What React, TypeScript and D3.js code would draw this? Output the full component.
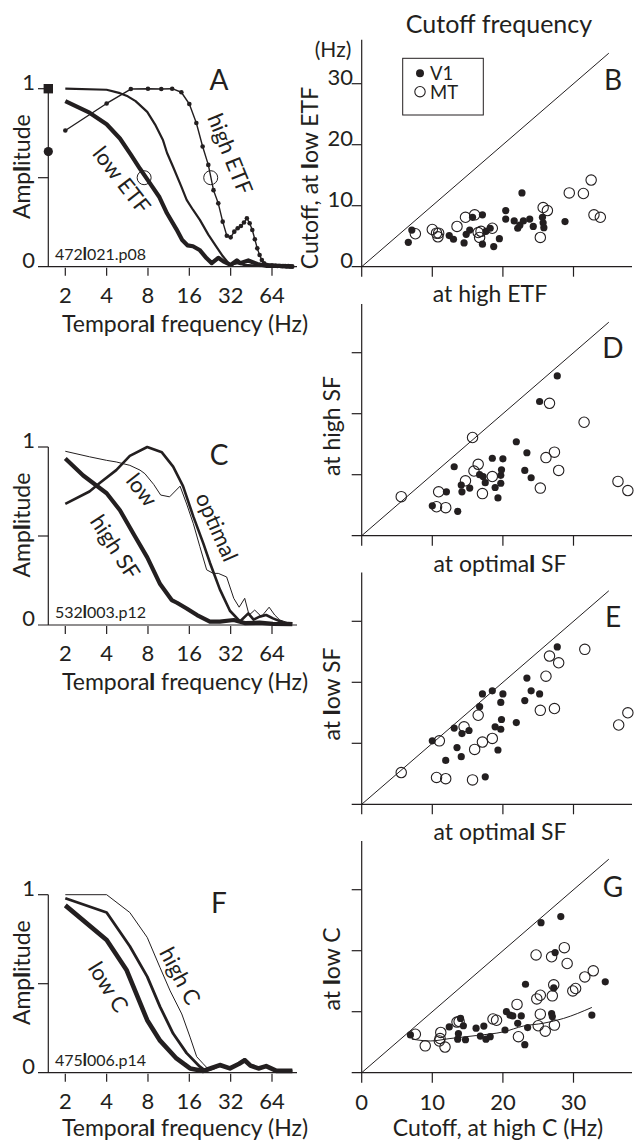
import React from 'react';
import * as d3 from 'd3';

const INK = '#231f20';
const FONT = 'Lato, "Noto Sans", sans-serif';

// tick values
const tfTicks = [2, 4, 8, 16, 32, 64];
const ampTicks = [0.5, 1];
const cutoffTicks = [0, 10, 20, 30];

// A: one V1 cell at three effective temporal frequencies  [Hz, amplitude]
const aLowEtf = [
  [2, 0.93], [3, 0.865], [4, 0.8], [5, 0.72], [6, 0.63], [7, 0.55], [8, 0.485], [9.7, 0.39],
  [11, 0.3], [12.9, 0.21], [14.2, 0.15], [15.5, 0.12], [17, 0.115], [19, 0.094], [21.4, 0.047],
  [23.3, 0.02], [26, 0.05], [28.3, 0.03], [32, 0.01], [35.5, 0.035], [37.5, 0.02], [43, 0.035],
  [50, 0.015], [58, 0.005], [73, 0.004], [92, 0],
];
const aMidEtf = [
  [2, 1.0], [4, 0.994], [5, 0.975], [5.7, 0.957], [6.5, 0.93], [7.9, 0.87], [9, 0.8], [10.3, 0.71],
  [11, 0.64], [12.2, 0.56], [14, 0.45], [15.3, 0.375], [17, 0.32], [19.1, 0.263], [22, 0.18],
  [25.3, 0.11], [28, 0.06], [31.6, 0.01], [36, 0.02], [40, 0.01], [50, 0.005], [64, 0.003], [90, 0],
];
const aHighEtf = [
  [2, 0.765], [4, 0.917], [6, 0.998], [8, 1.0], [10, 0.998], [12, 1.0], [14, 0.98], [16, 0.914],
  [18, 0.807], [20, 0.675], [22, 0.572], [24, 0.43], [26, 0.356], [28, 0.253], [30, 0.174],
  [32, 0.165], [34, 0.197], [36, 0.216], [38, 0.229], [40, 0.248], [42, 0.272], [44, 0.244],
  [46, 0.206], [48, 0.154], [50, 0.103], [52, 0.066], [54, 0.038], [56, 0.019], [58, 0.01],
  [60, 0.008], [62, 0.006], [64, 0.008], [66, 0.005], [68, 0.006], [70, 0.004], [72, 0.005],
  [74, 0.004], [76, 0.003], [78, 0.004], [80, 0.003], [82, 0.002], [84, 0.003], [86, 0.002],
  [88, 0.001], [90, 0.001],
];
const aHalfMarks = [[7.5, 0.5], [22.9, 0.5]];
const aHighEtfLevel = 1;
const aLowEtfLevel = 0.647;

// C: one cell at three spatial frequencies
const cLowSf = [
  [2, 0.976], [3, 0.945], [4, 0.925], [4.7, 0.916], [5.9, 0.897], [7, 0.87], [7.6, 0.85], [8.8, 0.79],
  [9.9, 0.73], [11.5, 0.72], [13.7, 0.78], [15.3, 0.68], [17.1, 0.57], [19.1, 0.44], [21.4, 0.31],
  [23.9, 0.29], [26, 0.29], [29.9, 0.27], [33.7, 0.15], [36.9, 0.1], [40.5, 0.15], [43.6, 0.056],
  [47.9, 0.084], [53.6, 0.047], [61, 0.1], [67, 0.056], [73, 0.028], [86, 0.01],
];
const cOptimalSf = [
  [2, 0.68], [3, 0.75], [3.6, 0.8], [4.7, 0.87], [5.9, 0.95], [7.9, 1.0], [10.1, 0.97], [12.2, 0.89],
  [14.4, 0.78], [17.1, 0.61], [20.2, 0.46], [22.6, 0.35], [26.7, 0.2], [31.6, 0.08], [37.4, 0.02],
  [43, 0.065], [47, 0.03], [52, 0.047], [58, 0.056], [65, 0.037], [78, 0.013], [90, 0.01],
];
const cHighSf = [
  [2, 0.935], [2.7, 0.84], [4, 0.74], [5, 0.645], [6.3, 0.51], [7.9, 0.38], [9.8, 0.23], [11.9, 0.14],
  [13, 0.125], [15.3, 0.093], [18.2, 0.056], [22.6, 0.019], [26.7, 0.019], [33.7, 0.028], [41, 0.01],
  [52, 0.013], [65, 0.006], [90, 0.005],
];

// F: one cell at three contrasts
const fHighC = [
  [2, 1.0], [4, 1.0], [5.9, 0.9], [7.9, 0.76], [9.8, 0.59], [11.6, 0.46], [14.1, 0.33], [16.2, 0.2],
  [18.1, 0.09], [20.2, 0.05], [22, 0.02], [26.7, 0.04], [31.6, 0.02], [36.9, 0.05], [40.5, 0.07],
  [44.6, 0.04], [51, 0.02], [58, 0.035], [69, 0.01], [90, 0.01],
];
const fMidC = [
  [2, 0.98], [4, 0.9], [5.9, 0.71], [7.9, 0.54], [9.8, 0.37], [12.2, 0.22], [15.3, 0.11], [19.1, 0.034],
  [21, 0.01], [24, 0.025], [26.7, 0.043], [31.6, 0.024], [36.9, 0.052], [40.5, 0.075], [44.6, 0.043],
  [51, 0.024], [58, 0.037], [69, 0.01], [90, 0.01],
];
const fLowC = [
  [2, 0.94], [4, 0.746], [5.6, 0.575], [7.9, 0.295], [9.8, 0.18], [12.9, 0.08], [16.2, 0.024],
  [20.2, 0.01], [23, 0.025], [26.7, 0.043], [31.6, 0.024], [36.9, 0.05], [40.5, 0.07], [44.6, 0.04],
  [51, 0.024], [58, 0.037], [69, 0.01], [90, 0.01],
];

// B: cutoff at low ETF vs at high ETF  [Hz, Hz]
const bV1 = [
  [6.6, 4.0], [7.1, 6.0], [12.4, 5.1], [13.0, 4.5], [14.5, 3.9], [14.8, 5.3], [15.3, 6.0], [15.7, 8.1],
  [17.1, 8.5], [17.1, 3.7], [17.6, 5.8], [18.2, 6.3], [18.7, 3.3], [19.5, 4.6], [20.4, 9.2], [20.4, 7.8],
  [21.6, 7.5], [22.1, 6.3], [22.4, 6.8], [22.7, 12.1], [22.9, 7.5], [23.8, 7.8], [24.3, 6.6], [25.6, 8.1],
  [25.7, 7.2], [25.8, 6.4], [28.8, 7.4],
];
const bMT = [
  [7.6, 5.4], [10.0, 6.1], [10.6, 5.5], [10.8, 4.9], [10.9, 5.5], [13.5, 6.6], [14.7, 8.1], [16.0, 8.5],
  [16.5, 5.6], [16.7, 4.8], [16.9, 5.8], [18.5, 6.3], [25.3, 4.8], [25.7, 9.7], [26.3, 9.2], [29.4, 12.1],
  [31.4, 12.0], [32.5, 14.2], [32.9, 8.5], [33.8, 8.1],
];

// D: cutoff at high SF vs at optimal SF
const dV1 = [
  [10.0, 4.9], [12.0, 7.2], [13.1, 11.3], [13.6, 4.0], [14.1, 8.3], [14.2, 7.2], [15.3, 7.8], [16.7, 10.0],
  [17.2, 9.7], [17.5, 8.7], [18.5, 12.7], [18.9, 7.9], [19.3, 6.2], [19.7, 8.6], [19.7, 9.9], [19.8, 10.8],
  [20.0, 12.6], [21.9, 15.4], [23.1, 10.7], [23.4, 13.6], [24.0, 9.5], [25.2, 22.0], [27.7, 26.2],
];
const dMT = [
  [5.6, 6.4], [10.6, 4.75], [10.9, 7.2], [11.9, 4.6], [14.7, 9.0], [15.7, 16.1], [15.9, 10.6], [16.5, 11.7],
  [17.1, 6.9], [18.5, 9.7], [25.3, 7.8], [26.1, 12.8], [26.6, 21.7], [27.3, 13.7], [27.9, 10.7],
  [31.5, 18.6], [36.3, 8.9], [37.7, 7.4],
];

// E: cutoff at low SF vs at optimal SF
const eV1 = [
  [10.0, 10.4], [11.9, 7.2], [13.1, 12.5], [13.5, 9.3], [14.1, 7.8], [14.2, 11.6], [15.2, 12.1], [16.7, 16.0],
  [17.1, 18.1], [17.5, 4.5], [18.5, 18.6], [18.9, 12.7], [19.3, 8.9], [19.7, 16.7], [19.7, 12.3], [19.8, 13.9],
  [20.0, 18.1], [21.9, 13.4], [23.1, 17.0], [23.4, 20.7], [24.0, 18.6], [25.2, 18.1], [27.7, 25.8],
];
const eMT = [
  [5.6, 5.2], [10.6, 4.4], [11.0, 10.4], [11.9, 4.2], [14.5, 12.7], [15.7, 4.0], [16.0, 9.0], [16.5, 14.6],
  [17.1, 10.2], [18.5, 10.8], [25.3, 15.4], [26.1, 21.0], [26.6, 24.3], [27.3, 15.7], [27.9, 23.2],
  [31.6, 25.4], [36.4, 13.0], [37.7, 15.0],
];

// G: cutoff at low C vs at high C, plus fitted trend
const gV1 = [
  [6.9, 6.2], [12.4, 7.5], [13.6, 5.5], [13.7, 6.4], [14.0, 8.9], [14.4, 7.7], [14.7, 5.4], [16.2, 7.3],
  [16.8, 6.0], [17.3, 7.65], [17.6, 5.5], [18.2, 5.9], [20.3, 7.0], [20.5, 10.0], [21.0, 9.45],
  [21.4, 9.3], [22.1, 8.1], [22.6, 9.3], [23.1, 4.6], [23.2, 14.5], [23.5, 7.4], [25.4, 24.6],
  [26.9, 9.7], [27.0, 9.2], [27.2, 13.9], [27.4, 19.7], [28.2, 25.6], [32.6, 9.45], [34.5, 14.9],
];
const gMT = [
  [7.6, 6.3], [9.0, 4.4], [11.0, 5.2], [11.1, 5.6], [11.2, 6.6], [11.8, 4.2], [13.5, 8.3], [13.8, 8.4],
  [18.6, 8.8], [19.1, 8.6], [22.0, 11.2], [22.2, 5.9], [24.7, 19.3], [24.8, 12.1], [25.3, 12.7],
  [25.3, 9.6], [25.0, 7.7], [26.0, 6.8], [26.9, 19.0], [27.0, 12.6], [27.2, 14.4], [27.3, 7.8],
  [28.7, 20.5], [29.1, 17.9], [29.9, 13.4], [30.3, 13.8], [31.6, 15.7], [32.8, 16.7],
];
const gFit = [
  [7.1, 5.5], [9.7, 5.2], [12.5, 5.6], [16.3, 6.1], [20.1, 6.7], [22.9, 7.65], [25.7, 8.1],
  [28.6, 8.9], [32.6, 10.7],
];

// lowercase "l" comes out heavy in the original axis titles
function HeavyL({ s }: { s: string }) {
  return (
    <>
      {s.split(/(l)/).map((p, i) =>
        p === 'l' ? <tspan key={i} fontWeight={900}>l</tspan> : p ? <tspan key={i}>{p}</tspan> : null
      )}
    </>
  );
}

type Curve = { data: number[][]; w: number; dots?: boolean };
type Label = { text: string; x: number; y: number; a: number };

function TfPanel({ y0, letter, letterY, cell, curves, labels, titleY, children }: any) {
  const x = d3.scaleLog().base(2).domain([2, 64]).range([65.3, 272]);
  const y = d3.scaleLinear().domain([0, 1]).range([y0, y0 - 178]);
  const line = d3.line<number[]>().x(d => x(d[0])).y(d => y(d[1])).curve(d3.curveLinear);
  const axX = 48.3;
  return (
    <g>
      {(curves as Curve[]).map((c, i) => (
        <g key={i}>
          <path d={line(c.data) || ''} fill="none" stroke={INK} strokeWidth={c.w} strokeLinejoin="round" />
          {c.dots && c.data.map((d, j) => <circle key={j} cx={x(d[0])} cy={y(d[1])} r={2.3} fill={INK} />)}
        </g>
      ))}
      <line x1={38} x2={297} y1={y0} y2={y0} stroke={INK} strokeWidth={1.2} />
      <line x1={axX} x2={axX} y1={y0} y2={y(1)} stroke={INK} strokeWidth={1.2} />
      {ampTicks.map(t => <line key={t} x1={38} x2={axX} y1={y(t)} y2={y(t)} stroke={INK} strokeWidth={1.2} />)}
      {tfTicks.map(t => (
        <g key={t}>
          <line x1={x(t)} x2={x(t)} y1={y0 + 1} y2={y0 + 9} stroke={INK} strokeWidth={1.2} />
          <text x={x(t)} y={y0 + 36} textAnchor="middle" fontSize={22}>{t}</text>
        </g>
      ))}
      <text x={35} y={y(1) + 1} textAnchor="end" fontSize={22}>1</text>
      <text x={35} y={y0 + 1} textAnchor="end" fontSize={22}>0</text>
      <text x={185} y={titleY ?? y0 + 65} textAnchor="middle" fontSize={23}><HeavyL s="Temporal frequency (Hz)" /></text>
      <text transform={`translate(30,${y0 - 100}) rotate(-90)`} textAnchor="middle" fontSize={23}>
        <HeavyL s="Amplitude" />
      </text>
      <text x={55} y={y0 - 7} fontSize={16}><HeavyL s={cell} /></text>
      <text x={219} y={letterY} textAnchor="middle" dy="0.35em" fontSize={28}>{letter}</text>
      {(labels as Label[]).map(l => (
        <text key={l.text} transform={`translate(${l.x},${l.y}) rotate(${l.a})`} textAnchor="middle" dy="0.35em" fontSize={22}>
          {l.text}
        </text>
      ))}
      {children && children(x, y)}
    </g>
  );
}

function CutoffPanel({ y0, top, letter, letterY, v1, mt, fit, yLabel, yLabelX, yLabelY, tickLabelsY, tickLabelsX, children }: any) {
  const x = d3.scaleLinear().domain([0, 10]).range([361.7, 432.3]);
  const y = d3.scaleLinear().domain([0, 10]).range([y0, y0 - 61]);
  const line = d3.line<number[]>().x(d => x(d[0])).y(d => y(d[1]));
  return (
    <g>
      <line x1={351.7} x2={632} y1={y0} y2={y0} stroke={INK} strokeWidth={1.2} />
      <line x1={x(0)} x2={x(0)} y1={y0} y2={y(top)} stroke={INK} strokeWidth={1.2} />
      {cutoffTicks.map(t => (
        <line key={'x' + t} x1={x(t)} x2={x(t)} y1={y0} y2={y0 + 10} stroke={INK} strokeWidth={1.2} />
      ))}
      {cutoffTicks.filter(t => t > 0).map(t => (
        <line key={'y' + t} x1={351.7} x2={x(0)} y1={y(t)} y2={y(t)} stroke={INK} strokeWidth={1.2} />
      ))}
      {tickLabelsY && cutoffTicks.map(t => (
        <text key={'ly' + t} x={353} y={y(t) + 1} textAnchor="end" fontSize={22}>{t}</text>
      ))}
      {tickLabelsX && cutoffTicks.map(t => (
        <text key={'lx' + t} x={x(t)} y={y0 + 37} textAnchor="middle" fontSize={22}>{t}</text>
      ))}
      <path d={line([[0, 0], [35, 35]]) || ''} stroke={INK} strokeWidth={1} fill="none" />
      {fit && <path d={line.curve(d3.curveMonotoneX)(fit) || ''} stroke={INK} strokeWidth={1} fill="none" />}
      {(mt as number[][]).map((d, i) => (
        <circle key={'m' + i} cx={x(d[0])} cy={y(d[1])} r={5.2} fill="none" stroke={INK} strokeWidth={1.1} />
      ))}
      {(v1 as number[][]).map((d, i) => (
        <circle key={'v' + i} cx={x(d[0])} cy={y(d[1])} r={3.6} fill={INK} />
      ))}
      <text transform={`translate(${yLabelX},${yLabelY}) rotate(-90)`} textAnchor="middle" fontSize={23}>
        <HeavyL s={yLabel} />
      </text>
      <text x={613} y={letterY} textAnchor="middle" dy="0.35em" fontSize={28}>{letter}</text>
      {children}
    </g>
  );
}

export default function App() {
  return (
    <svg
      width={634}
      height={1141}
      viewBox="0 0 634 1141"
      style={{ position: 'absolute', left: 0, top: 0, background: '#fff' }}
      fontFamily={FONT}
      fill={INK}
    >
      {/* left column: temporal tuning curves */}
      <TfPanel
        y0={266.7}
        letter="A"
        letterY={80}
        cell="472l021.p08"
        curves={[
          { data: aLowEtf, w: 4.2 },
          { data: aMidEtf, w: 2.2 },
          { data: aHighEtf, w: 1.4, dots: true },
        ]}
        labels={[
          { text: 'low ETF', x: 121.7, y: 180, a: 52 },
          { text: 'high ETF', x: 230, y: 154, a: 68 },
        ]}
      >
        {(x: any, y: any) => (
          <g>
            {aHalfMarks.map((d, i) => (
              <circle key={i} cx={x(d[0])} cy={y(d[1])} r={7} fill="none" stroke={INK} strokeWidth={1} />
            ))}
            <rect x={48.3 - 4.7} y={y(aHighEtfLevel) - 4.7} width={9.4} height={9.4} fill={INK} />
            <circle cx={48.3} cy={y(aLowEtfLevel)} r={4.6} fill={INK} />
          </g>
        )}
      </TfPanel>
      <TfPanel
        y0={625}
        letter="C"
        letterY={455}
        cell="532l003.p12"
        curves={[
          { data: cLowSf, w: 1 },
          { data: cOptimalSf, w: 2.6 },
          { data: cHighSf, w: 4.2 },
        ]}
        labels={[
          { text: 'low', x: 141.7, y: 490, a: 52 },
          { text: 'high SF', x: 115, y: 547, a: 57 },
          { text: 'optimal', x: 216.7, y: 527, a: 66 },
        ]}
      />
      <TfPanel
        y0={1072.7}
        letter="F"
        letterY={903}
        cell="475l006.p14"
        titleY={1136}
        curves={[
          { data: fHighC, w: 1 },
          { data: fMidC, w: 2.8 },
          { data: fLowC, w: 4.6 },
        ]}
        labels={[
          { text: 'low C', x: 108.3, y: 987, a: 58 },
          { text: 'high C', x: 180, y: 976, a: 62 },
        ]}
      />

      {/* right column: cutoff frequency scatter plots */}
      <text x={499} y={33} textAnchor="middle" fontSize={25}>Cutoff frequency</text>
      <text x={333} y={57} textAnchor="middle" fontSize={21}>(Hz)</text>
      <CutoffPanel
        y0={266.7}
        top={37.2}
        letter="B"
        letterY={80}
        v1={bV1}
        mt={bMT}
        yLabel="Cutoff, at low ETF"
        yLabelX={318}
        yLabelY={178}
        tickLabelsY
      >
        <rect x={402.7} y={58.3} width={80.6} height={56.7} fill="none" stroke={INK} strokeWidth={1} />
        <circle cx={420} cy={73.3} r={4} fill={INK} />
        <text x={430} y={79.5} fontSize={18.5}>V1</text>
        <circle cx={420} cy={91.7} r={5.2} fill="none" stroke={INK} strokeWidth={1.1} />
        <text x={430} y={99} fontSize={18.5}>MT</text>
      </CutoffPanel>
      <text x={490} y={302} textAnchor="middle" fontSize={23}>at high ETF</text>
      <CutoffPanel
        y0={535.7}
        top={38}
        letter="D"
        letterY={348}
        v1={dV1}
        mt={dMT}
        yLabel="at high SF"
        yLabelX={340}
        yLabelY={426}
      />
      <text x={500} y={572} textAnchor="middle" fontSize={23}><HeavyL s="at optimal SF" /></text>
      <CutoffPanel
        y0={804.3}
        top={38}
        letter="E"
        letterY={617}
        v1={eV1}
        mt={eMT}
        yLabel="at low SF"
        yLabelX={340}
        yLabelY={694}
      />
      <text x={500} y={840} textAnchor="middle" fontSize={23}><HeavyL s="at optimal SF" /></text>
      <CutoffPanel
        y0={1072.7}
        top={38}
        letter="G"
        letterY={887}
        v1={gV1}
        mt={gMT}
        fit={gFit}
        yLabel="at low C"
        yLabelX={340}
        yLabelY={969}
        tickLabelsX
      />
      <text x={498} y={1136} textAnchor="middle" fontSize={23}>Cutoff, at high C (Hz)</text>
    </svg>
  );
}
